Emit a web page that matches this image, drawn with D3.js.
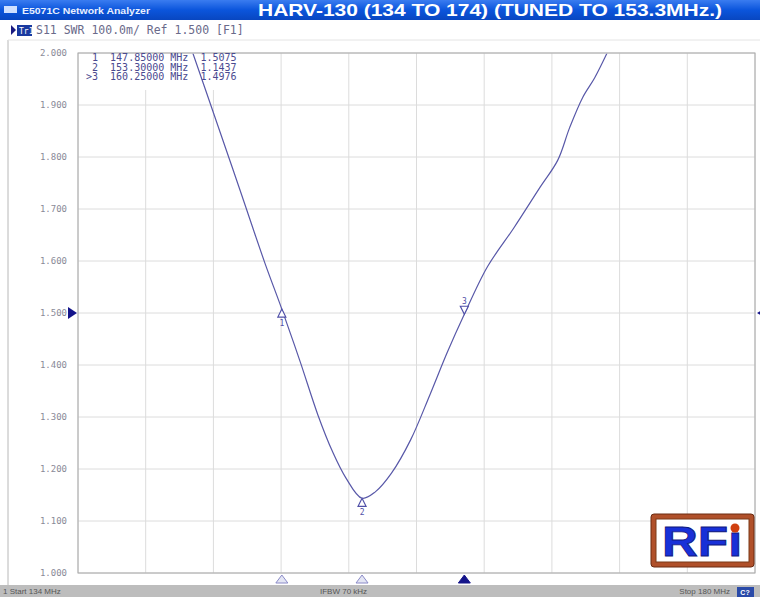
<!DOCTYPE html>
<html>
<head>
<meta charset="utf-8">
<script src="https://cdn.jsdelivr.net/npm/d3@7"></script>
<style>
  body { margin: 0; background: #fff; }
  svg { display: block; }
  .mono { font-family: "DejaVu Sans Mono", "Liberation Mono", monospace; }
</style>
</head>
<body>
<div id="chart"></div>
<script>
// trace (MHz, SWR); outside this span it sits on the 2.000 top line
var freq = [141.8, 143.3, 145.0, 146.7, 147.85, 149.1, 150.3, 151.3, 152.2, 153.3, 154.2, 155.3, 156.6, 157.9, 159.1, 160.25, 161.8, 163.6, 165.4, 166.6, 167.4, 168.3, 169.1, 169.95];
var swr  = [2.0, 1.877, 1.737, 1.596, 1.5075, 1.406, 1.304, 1.233, 1.183, 1.1437, 1.156, 1.192, 1.256, 1.342, 1.425, 1.4976, 1.588, 1.663, 1.742, 1.794, 1.856, 1.915, 1.952, 2.0];

var markerNum  = ["1", "2", "3"];
var markerFreq = [147.85, 153.3, 160.25];
var markerVal  = [1.5075, 1.1437, 1.4976];
var markerText = [" 1  147.85000 MHz  1.5075", " 2  153.30000 MHz  1.1437", ">3  160.25000 MHz  1.4976"];

var yTicks = [1.0, 1.1, 1.2, 1.3, 1.4, 1.5, 1.6, 1.7, 1.8, 1.9, 2.0];
var xGrid  = [134, 138.6, 143.2, 147.8, 152.4, 157, 161.6, 166.2, 170.8, 175.4, 180];
var refLevel = 1.5;

var W = 760, H = 597;
var L = 78, R = 755, T = 53, B = 573;

var svg = d3.select("#chart").append("svg").attr("width", W).attr("height", H);

var x = d3.scaleLinear().domain([134, 180]).range([L, R]);
var y = d3.scaleLinear().domain([1, 2]).range([B, T]);

// title bar
var grad = svg.append("defs").append("linearGradient").attr("id", "tb").attr("x1", 0).attr("y1", 0).attr("x2", 0).attr("y2", 1);
grad.append("stop").attr("offset", "0%").attr("stop-color", "#3a7cf0");
grad.append("stop").attr("offset", "50%").attr("stop-color", "#0b55dc");
grad.append("stop").attr("offset", "100%").attr("stop-color", "#0846c0");
svg.append("rect").attr("x", 0).attr("y", 0).attr("width", W).attr("height", 20).attr("fill", "url(#tb)");
svg.append("rect").attr("x", 4).attr("y", 6).attr("width", 13).attr("height", 7).attr("fill", "#cfe0ff");
svg.append("text").attr("x", 22).attr("y", 14).attr("fill", "#e8f0ff")
  .attr("textLength", 128).attr("lengthAdjust", "spacingAndGlyphs")
  .style("font", "bold 9.5px 'Liberation Sans', Arial, sans-serif").text("E5071C Network Analyzer");
svg.append("text").attr("x", 258).attr("y", 16).attr("fill", "#fff")
  .attr("textLength", 464).attr("lengthAdjust", "spacingAndGlyphs")
  .style("font", "bold 17px 'Liberation Sans', Arial, sans-serif")
  .text("HARV-130 (134 TO 174) (TUNED TO 153.3MHz.)");

// channel / trace line
svg.append("path").attr("d", "M11,25 L16,30 L11,35 Z").attr("fill", "#1a1a80");
svg.append("rect").attr("x", 17).attr("y", 25).attr("width", 15).attr("height", 11).attr("fill", "#1a3aa0");
svg.append("text").attr("class", "mono").attr("x", 19).attr("y", 34).attr("fill", "#fff")
  .style("font-size", "8px").text("Tr1");
svg.append("text").attr("class", "mono").attr("x", 36).attr("y", 34).attr("fill", "#6a6a8a")
  .style("font-size", "11.5px").style("white-space", "pre").text("S11 SWR 100.0m/ Ref 1.500 [F1]");

// window frame
svg.append("line").attr("x1", 8).attr("x2", 8).attr("y1", 40).attr("y2", 585).attr("stroke", "#b8b8b8");
svg.append("line").attr("x1", 8).attr("x2", 760).attr("y1", 40).attr("y2", 40).attr("stroke", "#e4e4e4");

// grid
var g = svg.append("g");
g.selectAll(".hg").data(yTicks).enter().append("line")
  .attr("x1", L).attr("x2", R).attr("y1", function(d){ return y(d); }).attr("y2", function(d){ return y(d); })
  .attr("stroke", "#dcdcdc");
g.selectAll(".vg").data(xGrid).enter().append("line")
  .attr("y1", T).attr("y2", B).attr("x1", function(d){ return x(d); }).attr("x2", function(d){ return x(d); })
  .attr("stroke", "#dcdcdc");

// y labels
svg.selectAll(".yl").data(yTicks).enter().append("text").attr("class", "mono")
  .attr("x", 67).attr("y", function(d){ return y(d); }).attr("dy", "0.35em")
  .attr("text-anchor", "end").attr("fill", "#8a8a98").style("font-size", "9px")
  .text(function(d){ return d3.format(".3f")(d); });

// marker readout box
svg.append("rect").attr("x", L + 1).attr("y", T + 1).attr("width", 176).attr("height", 36).attr("fill", "#fff");
svg.selectAll(".mt").data(markerText).enter().append("text").attr("class", "mono")
  .attr("x", 86).attr("y", function(d, i){ return 64 + i * 9.5 - 3; })
  .attr("fill", "#4a4a90").style("font-size", "10px").style("white-space", "pre")
  .text(function(d){ return d; });

// trace
svg.append("clipPath").attr("id", "clip").append("rect").attr("x", L).attr("y", T + 0.8).attr("width", R - L).attr("height", B - T);
var line = d3.line().x(function(d){ return x(d[0]); }).y(function(d){ return y(d[1]); }).curve(d3.curveCatmullRom.alpha(0.5));
svg.append("path").datum(d3.zip(freq, swr)).attr("clip-path", "url(#clip)")
  .attr("d", line).attr("fill", "none").attr("stroke", "#5858a8").attr("stroke-width", 1.2);

g.append("rect").attr("x", L).attr("y", T).attr("width", R - L).attr("height", B - T)
  .attr("fill", "none").attr("stroke", "#a8a8a8");

// markers on trace
markerFreq.forEach(function(f, i){
  var px = x(f), py = y(markerVal[i]);
  var up = (i === 2);
  var d = up ? "M" + (px - 4) + "," + (py - 8) + " L" + (px + 4) + "," + (py - 8) + " L" + px + "," + py + " Z"
             : "M" + (px - 4) + "," + (py + 8) + " L" + (px + 4) + "," + (py + 8) + " L" + px + "," + py + " Z";
  svg.append("path").attr("d", d).attr("fill", "#fff").attr("stroke", "#5050a8").attr("stroke-width", 1.2);
  svg.append("text").attr("class", "mono").attr("x", px).attr("y", up ? py - 10 : py + 17)
    .attr("text-anchor", "middle").attr("fill", "#5050a8").style("font-size", "8px").text(markerNum[i]);
  // bottom stimulus markers
  var bd = "M" + (px - 6) + "," + (B + 10) + " L" + (px + 6) + "," + (B + 10) + " L" + px + "," + (B + 2) + " Z";
  svg.append("path").attr("d", bd)
    .attr("fill", i === 2 ? "#14148a" : "#e4e6f4")
    .attr("stroke", i === 2 ? "#14148a" : "#8a8ac8");
});

// reference level arrows
var ry = y(refLevel);
svg.append("path").attr("d", "M68," + (ry - 6) + " L77," + ry + " L68," + (ry + 6) + " Z").attr("fill", "#14148a");
svg.append("path").attr("d", "M767," + (ry - 6) + " L757," + ry + " L767," + (ry + 6) + " Z").attr("fill", "#14148a");

// RFI logo
var lg = svg.append("g");
lg.append("rect").attr("x", 651).attr("y", 514).attr("width", 103).attr("height", 53).attr("rx", 3)
  .attr("fill", "#b0502a").attr("stroke", "#6a2a10");
lg.append("rect").attr("x", 656).attr("y", 519).attr("width", 93).attr("height", 43).attr("fill", "#fff").attr("stroke", "#7a3a18");
lg.append("text").attr("x", 702).attr("y", 556).attr("text-anchor", "middle")
  .attr("fill", "#1830d8").attr("stroke", "#101880").attr("stroke-width", 0.8)
  .attr("textLength", 80).attr("lengthAdjust", "spacingAndGlyphs")
  .style("font", "bold 42px 'Liberation Sans', Arial, sans-serif").text("RFı");
lg.append("circle").attr("cx", 735).attr("cy", 528).attr("r", 4.5).attr("fill", "#d04010");

// status bar
svg.append("rect").attr("x", 0).attr("y", 585).attr("width", W).attr("height", 12).attr("fill", "#bdbdbd");
var st = { font: "8px 'Liberation Sans', Arial, sans-serif" };
svg.append("text").attr("x", 3).attr("y", 594).attr("fill", "#555").style("font", st.font).text("1  Start 134 MHz");
svg.append("text").attr("x", 320).attr("y", 594).attr("fill", "#555").style("font", st.font).text("IFBW 70 kHz");
svg.append("text").attr("x", 730).attr("y", 594).attr("text-anchor", "end").attr("fill", "#555").style("font", st.font).text("Stop 180 MHz");
svg.append("rect").attr("x", 737).attr("y", 587).attr("width", 17).attr("height", 10).attr("fill", "#2a4aa8");
svg.append("text").attr("x", 745).attr("y", 595).attr("text-anchor", "middle").attr("fill", "#fff").style("font", "bold 7px sans-serif").text("C?");
</script>
</body>
</html>
